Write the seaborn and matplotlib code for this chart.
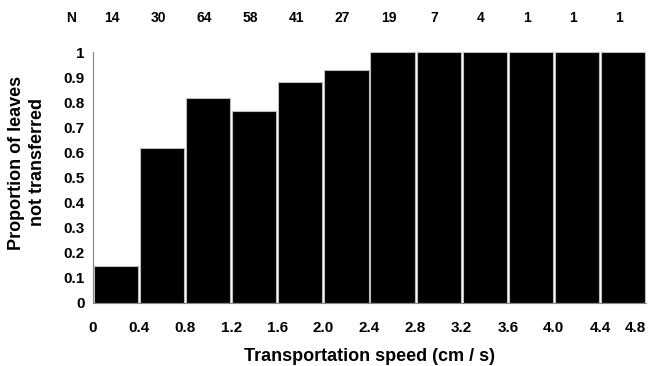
import matplotlib
matplotlib.use("Agg")
import matplotlib.pyplot as plt
import matplotlib.transforms as mtransforms
import seaborn as sns
import pandas as pd

# Data
speed_bins = ["0-0.4", "0.4-0.8", "0.8-1.2", "1.2-1.6", "1.6-2.0", "2.0-2.4",
              "2.4-2.8", "2.8-3.2", "3.2-3.6", "3.6-4.0", "4.0-4.4", "4.4-4.8"]
proportion = [0.149, 0.617, 0.817, 0.765, 0.880, 0.928, 1, 1, 1, 1, 1, 1]
n_counts = ["14", "30", "64", "58", "41", "27", "19", "7", "4", "1", "1", "1"]
edge_labels = ["0", "0.4", "0.8", "1.2", "1.6", "2.0", "2.4", "2.8", "3.2",
               "3.6", "4.0", "4.4", "4.8"]
y_ticks = [0, 0.1, 0.2, 0.3, 0.4, 0.5, 0.6, 0.7, 0.8, 0.9, 1]
y_tick_labels = ["0", "0.1", "0.2", "0.3", "0.4", "0.5", "0.6", "0.7", "0.8", "0.9", "1"]

df = pd.DataFrame({"bin": speed_bins, "prop": proportion})

sns.set_style("white")
plt.rcParams["font.family"] = ["Liberation Sans", "DejaVu Sans"]
plt.rcParams["font.weight"] = "bold"
plt.rcParams["text.color"] = "black"
plt.rcParams["axes.labelcolor"] = "black"

fig = plt.figure(figsize=(6.5, 3.66), dpi=100)
ax = fig.add_axes([93 / 650, 1 - 303 / 366, (646 - 93) / 650, (303 - 52) / 366])

sns.barplot(data=df, x="bin", y="prop", color="black", width=0.96,
            edgecolor="#bbbbbb", linewidth=0.8, saturation=1, ax=ax)
for p in ax.patches:
    p.set_facecolor("black")

ax.set_xlim(-0.5, len(speed_bins) - 0.5)
ax.set_ylim(0, 1)

edges = [i - 0.5 for i in range(len(edge_labels))]
ax.set_xticks(edges)
ax.set_xticklabels(edge_labels, fontsize=11, fontweight="bold")
ax.get_xticklabels()[-1].set_horizontalalignment("right")
ax.set_yticks(y_ticks)
ax.set_yticklabels(y_tick_labels, fontsize=11, fontweight="bold")

ax.tick_params(axis="x", direction="inout", length=6, width=0.8, color="#888888",
               labelcolor="black", pad=10)
ax.tick_params(axis="y", direction="inout", length=8, width=0.8, color="#888888",
               labelcolor="black", pad=2)

for s in ["top", "right"]:
    ax.spines[s].set_visible(False)
for s in ["left", "bottom"]:
    ax.spines[s].set_color("#888888")
    ax.spines[s].set_linewidth(0.8)

ax.set_xlabel("Transportation speed (cm / s)", fontsize=13, fontweight="bold",
              labelpad=9, color="black")
ax.set_ylabel("Proportion of leaves\nnot transferred", fontsize=13, fontweight="bold",
              linespacing=1.3, color="black")
ax.yaxis.set_label_coords((46 - 93) / 553, 0.56)

# N counts above the bars
trans = mtransforms.blended_transform_factory(ax.transData, fig.transFigure)
y_n = 1 - 18 / 366
fig.text(71 / 650, y_n, "N", fontsize=10, fontweight="bold", ha="center", va="center",
         color="black")
for i, n in enumerate(n_counts):
    ax.text(i - 0.09, y_n, n, transform=trans, fontsize=10, fontweight="bold",
            ha="center", va="center", clip_on=False, color="black")

fig.savefig("out.png", dpi=100)
